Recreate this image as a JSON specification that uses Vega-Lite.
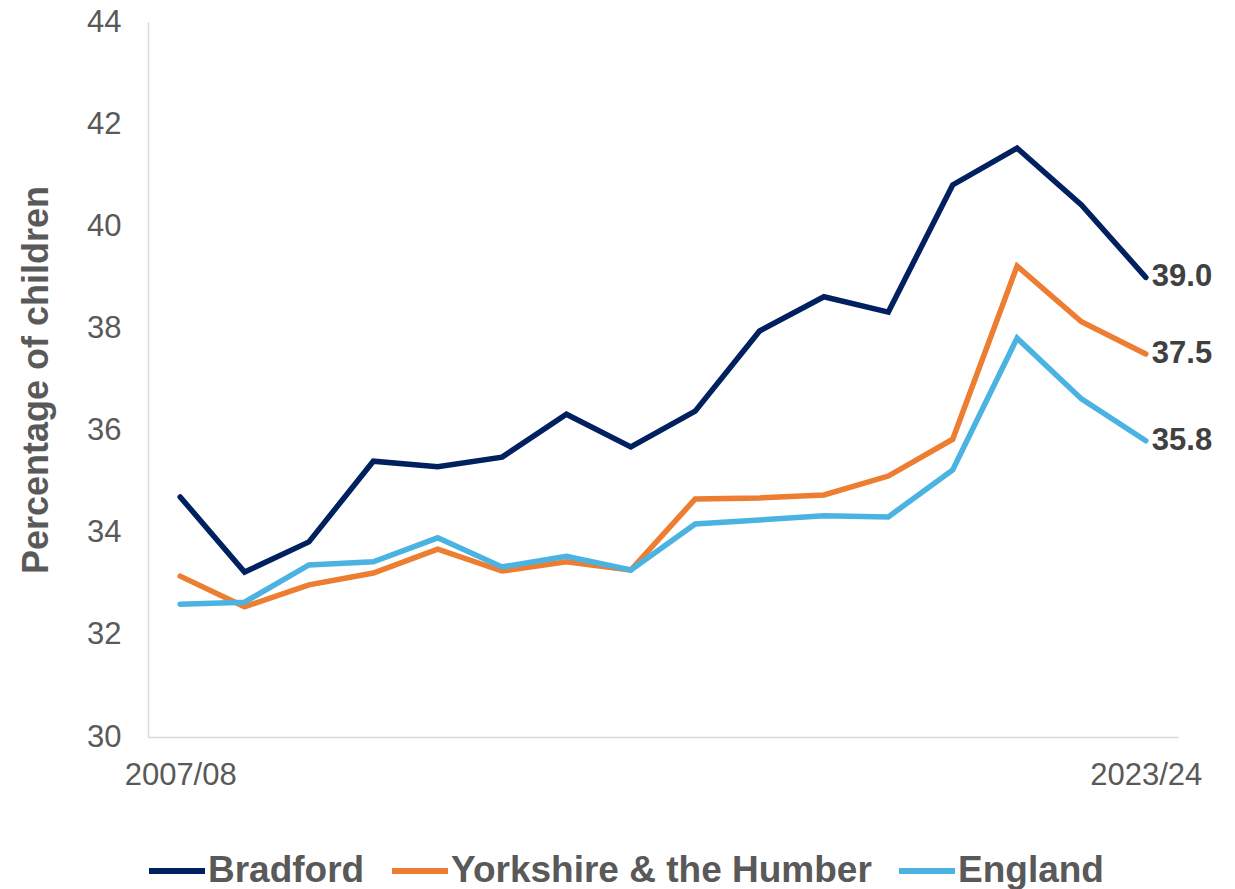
{
  "$schema": "https://vega.github.io/schema/vega-lite/v6.json",
  "autosize": {"type": "none"},
  "width": 1030,
  "height": 715,
  "padding": {"left": 148, "top": 22, "right": 57, "bottom": 152},
  "background": "white",
  "config": {"view": {"stroke": null}, "font": "Liberation Sans"},
  "data": {"values": [
    {"year": "2007/08", "series": "Bradford", "value": 34.7},
    {"year": "2008/09", "series": "Bradford", "value": 33.23},
    {"year": "2009/10", "series": "Bradford", "value": 33.82},
    {"year": "2010/11", "series": "Bradford", "value": 35.4},
    {"year": "2011/12", "series": "Bradford", "value": 35.29},
    {"year": "2012/13", "series": "Bradford", "value": 35.48},
    {"year": "2013/14", "series": "Bradford", "value": 36.32},
    {"year": "2014/15", "series": "Bradford", "value": 35.68},
    {"year": "2015/16", "series": "Bradford", "value": 36.38},
    {"year": "2016/17", "series": "Bradford", "value": 37.95},
    {"year": "2017/18", "series": "Bradford", "value": 38.62},
    {"year": "2018/19", "series": "Bradford", "value": 38.32},
    {"year": "2019/20", "series": "Bradford", "value": 40.81},
    {"year": "2021/22", "series": "Bradford", "value": 41.53},
    {"year": "2022/23", "series": "Bradford", "value": 40.42},
    {"year": "2023/24", "series": "Bradford", "value": 39.0},
    {"year": "2007/08", "series": "Yorkshire & the Humber", "value": 33.15},
    {"year": "2008/09", "series": "Yorkshire & the Humber", "value": 32.55},
    {"year": "2009/10", "series": "Yorkshire & the Humber", "value": 32.98},
    {"year": "2010/11", "series": "Yorkshire & the Humber", "value": 33.21},
    {"year": "2011/12", "series": "Yorkshire & the Humber", "value": 33.68},
    {"year": "2012/13", "series": "Yorkshire & the Humber", "value": 33.25},
    {"year": "2013/14", "series": "Yorkshire & the Humber", "value": 33.43},
    {"year": "2014/15", "series": "Yorkshire & the Humber", "value": 33.27},
    {"year": "2015/16", "series": "Yorkshire & the Humber", "value": 34.66},
    {"year": "2016/17", "series": "Yorkshire & the Humber", "value": 34.68},
    {"year": "2017/18", "series": "Yorkshire & the Humber", "value": 34.74},
    {"year": "2018/19", "series": "Yorkshire & the Humber", "value": 35.11},
    {"year": "2019/20", "series": "Yorkshire & the Humber", "value": 35.83},
    {"year": "2021/22", "series": "Yorkshire & the Humber", "value": 39.22},
    {"year": "2022/23", "series": "Yorkshire & the Humber", "value": 38.13},
    {"year": "2023/24", "series": "Yorkshire & the Humber", "value": 37.5},
    {"year": "2007/08", "series": "England", "value": 32.6},
    {"year": "2008/09", "series": "England", "value": 32.64},
    {"year": "2009/10", "series": "England", "value": 33.37},
    {"year": "2010/11", "series": "England", "value": 33.43},
    {"year": "2011/12", "series": "England", "value": 33.9},
    {"year": "2012/13", "series": "England", "value": 33.33},
    {"year": "2013/14", "series": "England", "value": 33.54},
    {"year": "2014/15", "series": "England", "value": 33.27},
    {"year": "2015/16", "series": "England", "value": 34.17},
    {"year": "2016/17", "series": "England", "value": 34.25},
    {"year": "2017/18", "series": "England", "value": 34.33},
    {"year": "2018/19", "series": "England", "value": 34.31},
    {"year": "2019/20", "series": "England", "value": 35.23},
    {"year": "2021/22", "series": "England", "value": 37.81},
    {"year": "2022/23", "series": "England", "value": 36.62},
    {"year": "2023/24", "series": "England", "value": 35.8}
  ]},
  "encoding": {
    "x": {
      "field": "year", "type": "ordinal", "sort": null,
      "scale": {"type": "point", "padding": 0.5},
      "axis": {
        "title": null, "values": ["2007/08", "2023/24"], "labelAngle": 0,
        "ticks": false, "grid": false, "domainColor": "#d9d9d9", "domainWidth": 1.5,
        "labelFontSize": 31, "labelColor": "#595959", "labelPadding": 23, "labelFont": "Liberation Sans"
      }
    },
    "y": {
      "field": "value", "type": "quantitative",
      "scale": {"domain": [30, 44], "nice": false, "zero": false},
      "axis": {
        "title": "Percentage of children", "values": [30, 32, 34, 36, 38, 40, 42, 44],
        "ticks": false, "grid": false, "domainColor": "#d9d9d9", "domainWidth": 1.5,
        "labelFontSize": 31, "labelColor": "#595959", "labelPadding": 27, "labelFont": "Liberation Sans",
        "titleFontSize": 36, "titleFontWeight": "bold", "titleColor": "#595959", "titleFont": "Liberation Sans",
        "titleX": -112, "titleBaseline": "middle"
      }
    },
    "color": {
      "field": "series", "type": "nominal",
      "scale": {"domain": ["Bradford", "Yorkshire & the Humber", "England"], "range": ["#002060", "#ED7D31", "#4BB3E2"]},
      "legend": {
        "title": null, "orient": "none", "direction": "horizontal", "legendX": -2, "legendY": 818,
        "symbolType": "stroke", "symbolSize": 3136, "symbolStrokeWidth": 6,
        "labelFontSize": 37, "labelFontWeight": "bold", "labelColor": "#595959", "labelFont": "Liberation Sans",
        "labelOffset": 0, "columnPadding": 15, "labelLimit": 600
      }
    }
  },
  "layer": [
    {"mark": {"type": "line", "strokeWidth": 5.5, "strokeCap": "round", "strokeJoin": "miter"}},
    {
      "transform": [{"filter": "datum.year == '2023/24'"}],
      "mark": {"type": "text", "align": "left", "baseline": "middle", "dx": 6, "fontSize": 31, "fontWeight": "bold", "color": "#404040", "font": "Liberation Sans"},
      "encoding": {
        "text": {"field": "value", "type": "quantitative", "format": ".1f"},
        "color": {"value": "#404040"}
      }
    }
  ]
}
